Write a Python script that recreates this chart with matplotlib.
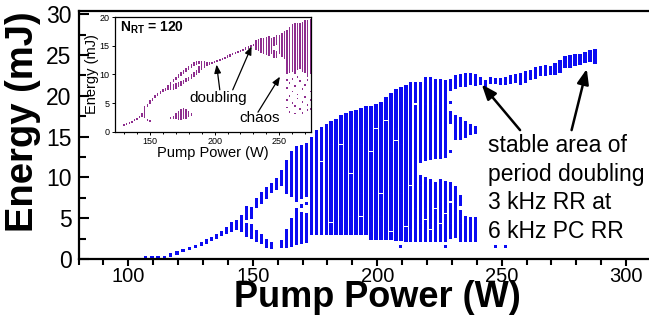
import matplotlib
matplotlib.use("Agg")
import matplotlib.pyplot as plt
from matplotlib.ticker import MultipleLocator

plt.rcParams["font.family"] = ["Liberation Sans", "DejaVu Sans"]
plt.rcParams["mathtext.fontset"] = "custom"
plt.rcParams["mathtext.rm"] = "Liberation Sans"
plt.rcParams["mathtext.bf"] = "Liberation Sans:bold"

# main diagram: pump power (W) and the energy ranges (mJ) seen at each step
main_power = [107.0, 109.5, 112.0, 114.5, 117.0, 119.5, 122.0, 124.5, 127.0, 129.5,
              131.5, 133.5, 135.5, 137.5, 139.5, 141.5, 143.5, 145.5, 147.5, 149.5,
              151.5, 153.5, 155.5, 157.5, 159.5, 161.5, 163.5, 165.5, 167.5, 169.5,
              171.5, 173.5, 175.5, 177.5, 179.5, 181.5, 183.5, 185.5, 187.5, 189.5,
              191.5, 193.5, 195.5, 197.5, 199.5, 201.5, 203.5, 205.5, 207.5, 209.5,
              211.5, 213.5, 215.5, 217.5, 219.5, 221.5, 223.5, 225.5, 227.5, 229.5,
              231.5, 233.5, 235.5, 237.5, 239.5, 241.5, 243.5, 245.5, 247.5, 249.5,
              251.5, 253.5, 255.5, 257.5, 259.5, 261.5, 263.5, 265.5, 267.5, 269.5,
              271.5, 273.5, 275.5, 277.5, 279.5, 281.5, 283.5, 285.5, 287.5]
main_ranges = [
    [(0.0, 0.3)], [(0.0, 0.3)], [(0.0, 0.3)], [(0.05, 0.4)], [(0.3, 0.7)],
    [(0.55, 0.95)], [(0.8, 1.2)], [(1.05, 1.45)], [(1.3, 1.75)], [(1.6, 2.1)],
    [(1.9, 2.4)], [(2.2, 2.75)], [(2.5, 3.1)], [(2.8, 3.45)], [(3.1, 3.9)],
    [(3.3, 4.5)], [(3.5, 4.8)], [(3.3, 5.4)], [(2.7, 4.4), (4.8, 6.5)], [(2.5, 4.3), (4.9, 6.4)],
    [(2.1, 3.6), (6.2, 7.5)], [(1.85, 3.1), (6.8, 8.2)], [(1.3, 2.5), (7.4, 8.8)],
    [(1.2, 2.1), (8.1, 9.3)], [(8.5, 9.9)], [(1.3, 2.3), (8.9, 10.9)],
    [(1.3, 3.7), (8.0, 12.1)], [(1.5, 5.0), (7.6, 13.3)], [(1.7, 6.3), (7.0, 13.8)],
    [(1.8, 5.8), (6.2, 6.8), (7.4, 14.0)], [(2.0, 5.7), (6.6, 7.0), (7.6, 14.2)],
    [(3.0, 15.0)], [(3.0, 15.8)], [(3.0, 16.2)], [(3.0, 16.5)], [(3.0, 16.9)],
    [(3.0, 17.2)], [(3.0, 17.6)], [(3.0, 17.9)], [(3.0, 18.2)], [(3.0, 18.3)],
    [(3.0, 18.5)], [(3.0, 18.7)], [(2.3, 18.7)], [(2.3, 19.0)], [(2.3, 19.3)],
    [(2.3, 19.8)], [(2.3, 20.4)], [(2.2, 20.8)], [(2.2, 21.1)], [(2.1, 21.3)],
    [(2.1, 21.7)], [(2.1, 21.7)], [(2.1, 10.3), (11.8, 21.7)], [(2.1, 10.0), (12.0, 22.3)],
    [(2.1, 9.8), (12.1, 22.3)], [(2.1, 9.4), (12.3, 22.1)], [(2.1, 9.8), (12.3, 22.1)],
    [(2.1, 9.6), (12.4, 22.0)],
    [(2.5, 9.4), (13.0, 13.4), (16.6, 18.1), (19.0, 19.4), (20.6, 22.1)],
    [(2.6, 9.0), (14.6, 17.7), (20.9, 22.5)],
    [(2.1, 6.0), (6.5, 7.8), (14.6, 17.4), (21.1, 22.7)],
    [(2.1, 5.3), (14.8, 16.9), (21.1, 22.8)],
    [(2.1, 5.2), (15.2, 16.6), (21.3, 22.8)],
    [(2.1, 5.2), (15.3, 16.3), (21.2, 22.7)],
    [(21.3, 22.3)], [(21.1, 21.9)], [(21.5, 22.3)], [(21.4, 22.2)], [(21.3, 22.2)],
    [(21.3, 22.3)], [(21.5, 22.6)], [(21.6, 22.7)], [(21.3, 22.8)], [(21.6, 23.1)],
    [(21.9, 23.2)], [(22.1, 23.5)], [(22.4, 23.6)], [(22.4, 23.8)], [(22.5, 23.7)],
    [(22.6, 24.0)], [(22.8, 24.4)], [(23.4, 24.9)], [(23.4, 25.0)], [(23.6, 25.1)],
    [(23.8, 25.1)], [(24.0, 25.4)], [(24.1, 25.6)], [(23.9, 25.7)],
]
# lone points below the chaotic band
dot_power = [209.5, 227.5, 247.5, 251.5]
dot_energy = [1.5, 1.5, 1.5, 1.5]
# thin empty rows inside the filled band
gap_power = [177.5, 181.5, 185.5, 189.5, 193.5, 197.5, 201.5, 203.5, 207.5, 211.5,
             215.5, 219.5, 221.5, 223.5, 225.5, 227.5, 229.5, 213.5, 205.5, 199.5]
gap_energy = [12.0, 4.5, 14.0, 10.5, 5.2, 13.2, 8.0, 17.0, 14.5, 4.0,
              19.0, 4.8, 3.6, 6.2, 4.4, 5.6, 7.0, 9.0, 3.4, 16.0]

# inset: N_RT = 120
inset_power = [130, 132, 134, 136, 138, 140, 142, 144, 146, 148, 150, 152, 154, 156, 158,
               160, 162, 164, 166, 168, 170, 172, 174, 176, 178, 180, 182, 184, 186, 188,
               190, 192, 194, 196, 198, 200, 202, 204, 206, 208, 210, 212, 214, 216, 218,
               220, 222, 224, 226, 228, 230, 232, 234, 236, 238, 240, 242, 244, 246, 248,
               250, 252, 254, 256, 258, 260, 262, 264, 266, 268, 270, 272, 274]
inset_ranges = [
    [(1.0, 1.35)], [(1.2, 1.55)], [(1.4, 1.75)], [(1.6, 1.95)], [(1.85, 2.2)],
    [(2.1, 2.45)], [(2.35, 2.75)], [(2.6, 3.2)], [(2.4, 4.4)], [(1.9, 2.2), (4.3, 4.9)],
    [(1.7, 2.0), (4.9, 5.5)], [(5.4, 5.9)], [(5.9, 6.4)], [(6.3, 6.8)], [(6.6, 7.1)],
    [(6.9, 7.4)], [(7.1, 7.7)], [(7.2, 8.2)], [(2.2, 2.5), (7.2, 8.6)],
    [(2.2, 2.8), (7.3, 8.4), (8.7, 9.2)], [(2.2, 3.2), (7.5, 8.5), (9.0, 9.6)],
    [(2.1, 3.6), (7.8, 8.6), (9.4, 10.0)], [(2.1, 3.9), (8.0, 8.8), (9.8, 10.4)],
    [(2.2, 4.1), (8.3, 9.0), (10.1, 10.8)], [(2.3, 4.0), (8.6, 9.3), (10.5, 11.1)],
    [(2.5, 3.6), (8.9, 9.6), (10.8, 11.5)], [(2.7, 3.2), (9.2, 10.0), (11.1, 11.8)],
    [(9.5, 10.4), (11.4, 12.1)], [(9.9, 10.8), (11.6, 12.3)], [(10.3, 11.4), (11.8, 12.4)],
    [(10.7, 12.4)], [(11.1, 12.3)], [(11.5, 12.2)], [(11.7, 12.1)], [(11.8, 12.2)],
    [(11.95, 12.35)], [(12.1, 12.5)], [(12.3, 12.7)], [(12.5, 12.9)], [(12.7, 13.1)],
    [(12.9, 13.3)], [(13.1, 13.5)], [(13.3, 13.7)], [(13.5, 13.9)], [(13.7, 14.1)],
    [(13.9, 14.3)], [(14.1, 14.5)], [(14.3, 14.7)], [(14.5, 14.9)], [(14.7, 15.1)],
    [(14.9, 15.3)], [(14.3, 16.0)], [(14.0, 16.2)], [(13.7, 16.3)], [(13.5, 16.4)],
    [(13.4, 16.5)], [(13.2, 16.7)], [(13.6, 16.3)], [(12.8, 14.2), (15.0, 16.5)],
    [(12.8, 14.0), (15.2, 16.8)], [(13.5, 16.9)], [(13.0, 17.3)], [(12.6, 17.6)],
    [(10.0, 17.8)], [(10.2, 18.2)], [(10.5, 18.7)], [(10.0, 18.9)], [(10.8, 18.9)],
    [(11.0, 19.0)], [(10.5, 19.2)], [(10.2, 19.4)], [(9.5, 19.5)], [(10.0, 19.6)],
]
inset_dot_power = [256, 256, 256, 256, 258, 258, 258, 260, 260, 260, 262, 262, 262,
                   264, 264, 264, 266, 266, 268, 268, 268, 270, 270, 272, 272, 272,
                   274, 274, 274]
inset_dot_energy = [9.0, 7.6, 5.5, 4.2, 8.5, 6.2, 3.5, 9.2, 7.0, 5.0, 8.0, 4.5, 3.2,
                    9.5, 6.5, 5.8, 8.8, 4.0, 7.4, 5.2, 3.3, 8.2, 6.0, 9.0, 4.6, 3.8,
                    7.0, 5.5, 4.0]

note_lines = ["stable area of", "period doubling", "3 kHz RR at", "6 kHz PC RR"]

BLUE = "#0b0bf2"
PURPLE = "#8e2d8e"


def drawRanges(ax, powers, ranges, width, color, min_height):
    xs = []
    bottoms = []
    heights = []
    for p, segs in zip(powers, ranges):
        for lo, hi in segs:
            xs.append(p)
            bottoms.append(lo)
            heights.append(max(hi - lo, min_height))
    ax.bar(xs, heights, bottom=bottoms, width=width, color=color, linewidth=0)


def drawDots(ax, powers, energies, width, height, color):
    bottoms = [e - height / 2 for e in energies]
    ax.bar(powers, [height] * len(powers), bottom=bottoms, width=width,
           color=color, linewidth=0)


fig = plt.figure(figsize=(6.49, 3.2), dpi=100)

ax = fig.add_axes([0.121, 0.1906, 0.879, 0.775])
drawRanges(ax, main_power, main_ranges, 1.35, BLUE, 0.35)
drawDots(ax, dot_power, dot_energy, 1.2, 0.4, BLUE)
drawDots(ax, gap_power, gap_energy, 1.5, 0.15, "white")
ax.set_xlim(80, 309.2)
ax.set_ylim(0, 30.4)
ax.xaxis.set_major_locator(MultipleLocator(50))
ax.xaxis.set_minor_locator(MultipleLocator(10))
ax.yaxis.set_major_locator(MultipleLocator(5))
ax.yaxis.set_minor_locator(MultipleLocator(2.5))
ax.tick_params(axis="x", which="both", direction="out", width=1.5, labelsize=14.5, pad=1)
ax.tick_params(axis="x", which="major", length=5)
ax.tick_params(axis="x", which="minor", length=4)
ax.tick_params(axis="y", which="both", direction="in", width=1.5, labelsize=16.5, pad=5)
ax.tick_params(axis="y", which="major", length=7)
ax.tick_params(axis="y", which="minor", length=5)
for side in ["left", "bottom", "top"]:
    ax.spines[side].set_linewidth(1.6)
ax.spines["right"].set_visible(False)

fig.text(377 / 649, 13 / 320, "Pump Power (W)", ha="center", va="baseline",
         fontsize=26, fontweight="bold")
fig.text(23 / 649, 198 / 320, "Energy (mJ)", ha="center", va="center", rotation=90,
         fontsize=27.5, fontweight="bold")

for i, line in enumerate(note_lines):
    ax.text(244.5, 13.15 - 3.53 * i, line, fontsize=16.5, ha="left", va="baseline")

arrow_style = dict(arrowstyle="-|>,head_length=0.9,head_width=0.35", color="black",
                   lw=1.8, shrinkA=0, shrinkB=0)
ax.annotate("", xy=(242.0, 21.4), xytext=(257.4, 15.8), arrowprops=arrow_style)
ax.annotate("", xy=(284.2, 23.3), xytext=(278.1, 15.8), arrowprops=arrow_style)

# inset
ins = fig.add_axes([0.1772, 0.5884, 0.302, 0.3584])
ins.set_zorder(5)
drawRanges(ins, inset_power, inset_ranges, 1.1, PURPLE, 0.3)
drawDots(ins, inset_dot_power, inset_dot_energy, 1.1, 0.3, PURPLE)
ins.set_xlim(123, 274.5)
ins.set_ylim(0, 20)
ins.xaxis.set_major_locator(MultipleLocator(50))
ins.xaxis.set_minor_locator(MultipleLocator(10))
ins.yaxis.set_major_locator(MultipleLocator(5))
ins.tick_params(which="both", labelsize=6.5, width=0.7, pad=1.5)
ins.tick_params(which="major", length=2.5)
ins.tick_params(which="minor", length=1.5)
for side in ins.spines:
    ins.spines[side].set_linewidth(0.9)
ins.set_xlabel("Pump Power (W)", fontsize=10.5, labelpad=0)
ins.set_ylabel("Energy (mJ)", fontsize=10.5, labelpad=0)
ins.text(127, 18.1, r"$\mathbf{N_{RT}}$ = 120", fontsize=10, fontweight="bold",
         ha="left", va="center")
ins.text(202.6, 5.9, "doubling", fontsize=11, ha="center", va="center")
ins.text(235, 2.4, "chaos", fontsize=11, ha="center", va="center")
small_arrow = dict(arrowstyle="-|>,head_length=0.5,head_width=0.2", color="black",
                   lw=0.9, shrinkA=0, shrinkB=0)
ins.annotate("", xy=(201.5, 11.7), xytext=(204, 7.3), arrowprops=small_arrow)
ins.annotate("", xy=(228.6, 14.9), xytext=(214, 7.3), arrowprops=small_arrow)
ins.annotate("", xy=(250.5, 9.6), xytext=(233.5, 3.4), arrowprops=small_arrow)

fig.savefig("out.png", dpi=100)
